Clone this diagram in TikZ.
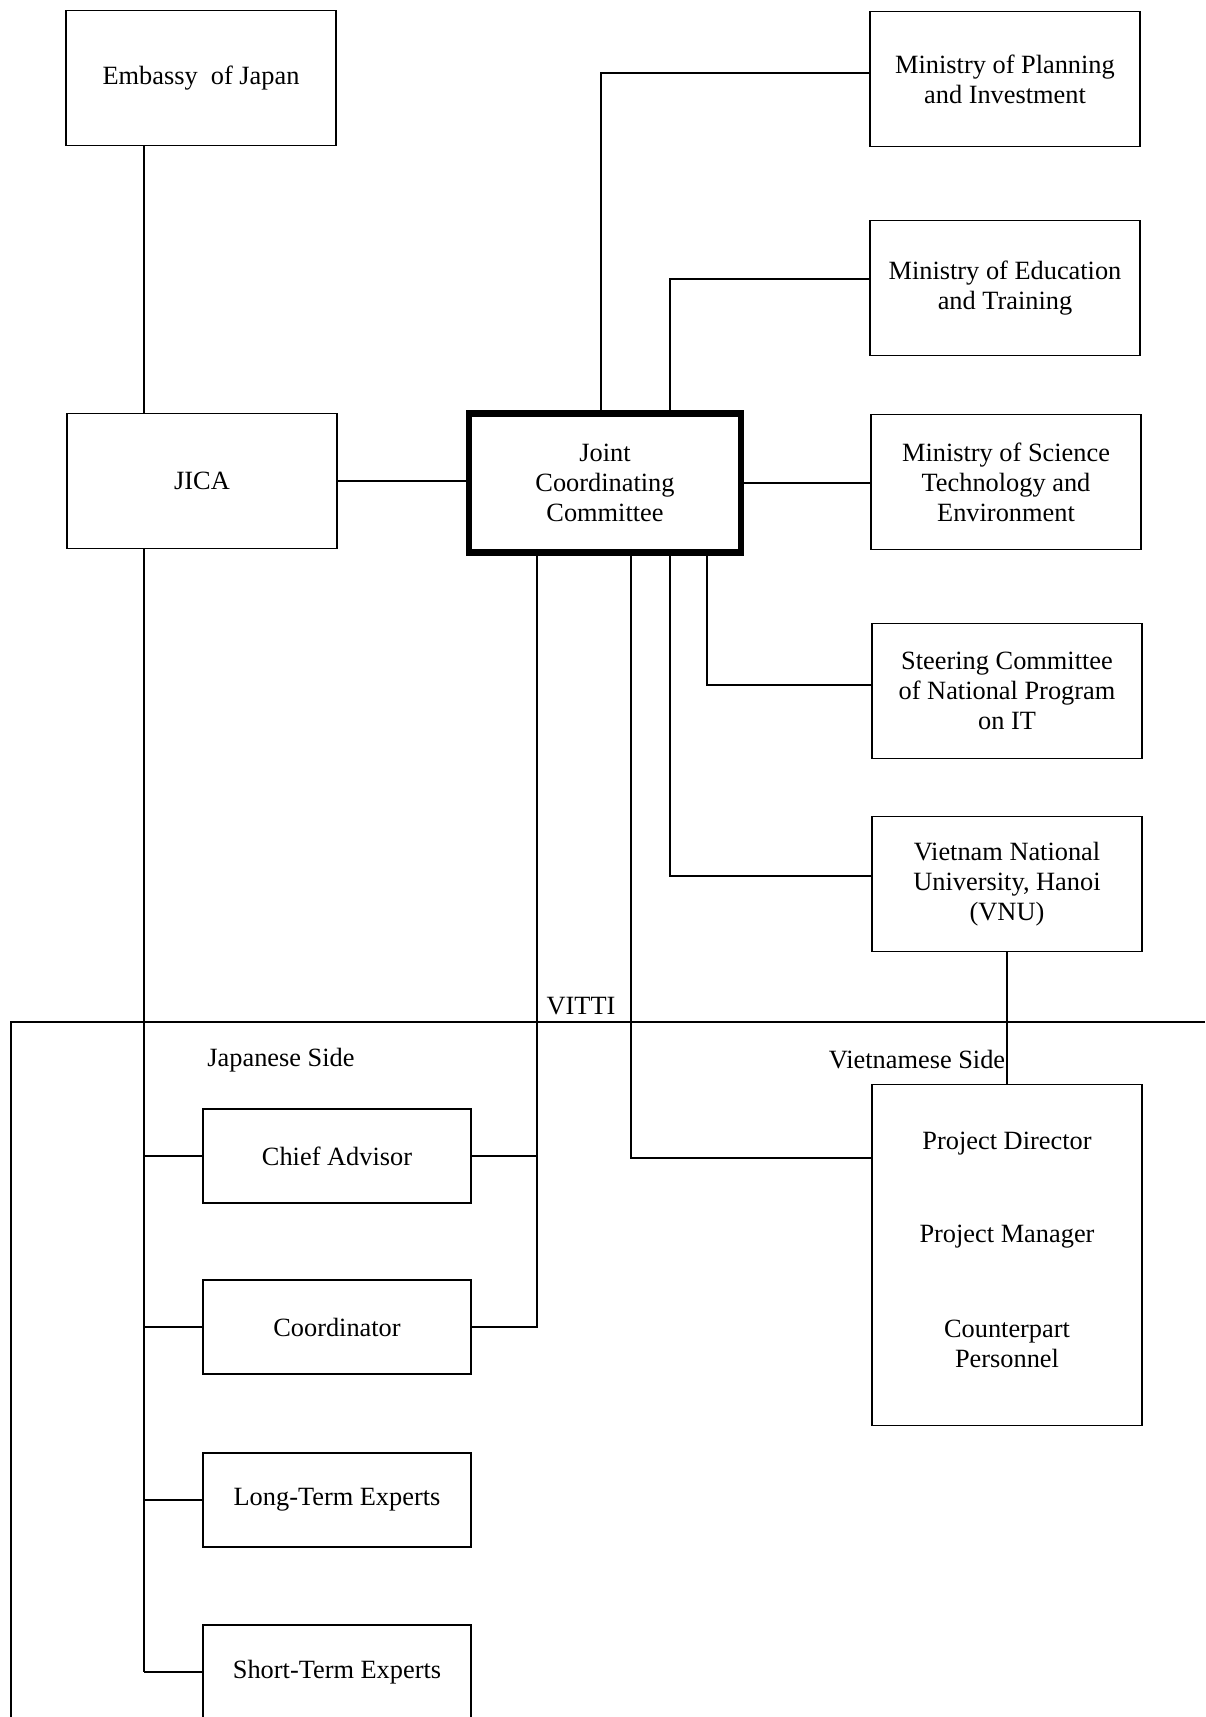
\documentclass[tikz,border=0pt]{standalone}
\usepackage{fontspec}
\setmainfont{Liberation Serif}
\begin{document}
\begin{tikzpicture}[x=0.02cm,y=-0.02cm,
    font=\fontsize{15}{17}\selectfont,
    line width=0.8pt,
    unit/.style={draw,line width=1pt,align=center,minimum width=5.4cm,minimum height=2.7cm,inner sep=2pt},
    smallunit/.style={unit,minimum width=5.36cm,minimum height=1.87cm},
    jccbox/.style={unit,line width=3.5pt,minimum width=5.45cm,minimum height=2.78cm}]
  \useasboundingbox (0,0) rectangle (1205,1717);

  \node[unit] (emb) at (201,78) {Embassy\ \ of Japan};
  \node[unit] (jica) at (202,481) {JICA};
  \node[jccbox] (jcc) at (605,483) {Joint\\Coordinating\\Committee};
  \node[unit] (mpi) at (1005,79) {Ministry of Planning\\and Investment};
  \node[unit] (moet) at (1005,288) {Ministry of Education\\and Training};
  \node[unit] (moste) at (1006,482) {Ministry of Science\\Technology and\\Environment};
  \node[unit] (steer) at (1007,691) {Steering Committee\\of National Program\\on IT};
  \node[unit] (vnu) at (1007,884) {Vietnam National\\University, Hanoi\\(VNU)};

  \node[unit,minimum height=6.82cm] (pd) at (1007,1255) {};
  \node (pddir) at (1007,1144) {Project Director};
  \node (pdman) at (1007,1237) {Project Manager};
  \node[align=center] (pdcp) at (1007,1344) {Counterpart\\Personnel};

  \node[smallunit] (chief) at (337,1156) {Chief Advisor};
  \node[smallunit] (coord) at (337,1327) {Coordinator};
  \node[smallunit] (longt) at (337,1500) {Long-Term Experts};
  \node[smallunit] (shortt) at (337,1672) {Short-Term Experts};

  \node (vitti) at (581,1006) {VITTI};
  \node (jpside) at (281,1060) {Japanese Side};
  \node (vnside) at (917,1060) {Vietnamese Side};

  \coordinate (spine) at (144,0);
  \coordinate (xa) at (537,0);
  \coordinate (xb) at (601,0);
  \coordinate (xc) at (631,0);
  \coordinate (xd) at (670,0);
  \coordinate (xe) at (707,0);
  \coordinate (mpiin) at (0,73);
  \coordinate (moetin) at (0,279);
  \coordinate (steerin) at (0,685);
  \coordinate (vnuin) at (0,876);
  \coordinate (pdin) at (0,1158);

  \draw (spine |- emb.south) -- (spine |- jica.north);
  \draw (spine |- jica.south) -- (spine |- shortt.west);
  \foreach \n in {chief,coord,longt,shortt}
    \draw (spine |- \n.west) -- (\n.west);

  \draw (jica.east) -- (jica.east -| jcc.west);
  \draw (jcc.east) -- (jcc.east -| moste.west);
  \draw (xb |- jcc.north) |- (mpi.west |- mpiin);
  \draw (xd |- jcc.north) |- (moet.west |- moetin);
  \draw (xe |- jcc.south) |- (steer.west |- steerin);
  \draw (xd |- jcc.south) |- (vnu.west |- vnuin);
  \draw (xc |- jcc.south) |- (pd.west |- pdin);
  \draw (xa |- jcc.south) |- (coord.east);
  \draw (chief.east) -- (chief.east -| xa);
  \draw (vnu.south) -- (pd.north);

  \draw (1205,1022) -- (11,1022) -- (11,1720);
\end{tikzpicture}
\end{document}
